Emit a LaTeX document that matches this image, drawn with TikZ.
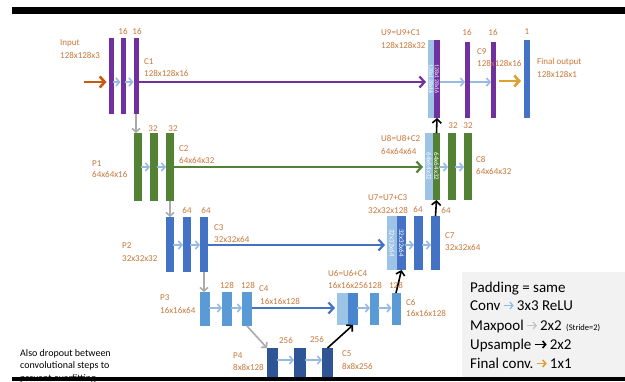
\documentclass[tikz,border=0pt]{standalone}
\usepackage{fontspec}
\setmainfont{Carlito}
\usetikzlibrary{arrows.meta,positioning}
\definecolor{purpleC}{RGB}{112,48,160}
\definecolor{greenC}{RGB}{84,130,53}
\definecolor{blueC}{RGB}{68,114,196}
\definecolor{lblueC}{RGB}{91,155,213}
\definecolor{dblueC}{RGB}{47,85,151}
\definecolor{ulightC}{RGB}{157,195,230}
\definecolor{u6darkC}{RGB}{74,134,207}
\definecolor{convC}{RGB}{150,186,226}
\definecolor{poolC}{RGB}{170,170,170}
\definecolor{labC}{RGB}{200,120,60}
\definecolor{inC}{RGB}{197,90,17}
\definecolor{finC}{RGB}{222,160,48}
\definecolor{legC}{RGB}{242,242,242}
\begin{document}
\begin{tikzpicture}[x=1pt,y=-1pt,
  bar/.style={inner sep=0pt, outer sep=0pt, draw=none},
  lab/.style={font=\fontsize{9}{10}\selectfont, text=labC, inner sep=0pt, anchor=base west},
  num/.style={font=\fontsize{9}{10}\selectfont, text=labC, inner sep=0pt, anchor=base},
  conv/.style={draw=convC, line width=1.6pt, -{Straight Barb[length=3.5pt,width=8pt]}},
  pool/.style={draw=poolC, line width=1.6pt, -{Straight Barb[length=3.5pt,width=8pt]}},
  upar/.style={draw=black, line width=1.6pt, -{Straight Barb[length=4pt,width=9pt]}},
  skip/.style={line width=2.2pt, -{Straight Barb[length=5pt,width=11pt]}, shorten >=2pt},
  leg/.style={font=\fontsize{15}{18}\selectfont, inner sep=0pt, anchor=base west},
  legarrow/.style={line width=1.3pt, -{Straight Barb[length=3pt,width=7pt]}, shorten <=3pt, shorten >=3pt},
  note/.style={font=\fontsize{10}{12}\selectfont, inner sep=0pt, anchor=base west}]
\useasboundingbox (0,0) rectangle (625,381);
\fill[white] (0,0) rectangle (625,381);

% level y coordinates
\coordinate (y1) at (0,82);
\coordinate (y1f) at (0,81);
\coordinate (y2) at (0,167);
\coordinate (y3) at (0,245);
\coordinate (y4) at (0,308);
\coordinate (y5) at (0,360);
\coordinate (inp) at (84,82);

% ---- level 1
\node[bar,fill=purpleC,minimum width=5pt,minimum height=76pt] (a1) at (111,76) {};
\node[bar,fill=purpleC,minimum width=5pt,minimum height=76pt] (a2) at (123,76) {};
\node[bar,fill=purpleC,minimum width=5pt,minimum height=76pt] (a3) at (136,76) {};
\node[bar,fill=ulightC,minimum width=6pt,minimum height=78pt] (u9l) at (431,79) {\rotatebox{-90}{\fontsize{6}{6}\selectfont\color{white}128x128x16}};
\node[bar,fill=purpleC,minimum width=6pt,minimum height=78pt] (u9d) at (437,79) {\rotatebox{-90}{\fontsize{6}{6}\selectfont\color{white}128x128x16}};
\node[bar,fill=purpleC,minimum width=5pt,minimum height=76pt] (c9a) at (467.5,80) {};
\node[bar,fill=purpleC,minimum width=5pt,minimum height=76pt] (c9b) at (493.5,80) {};
\node[bar,fill=blueC,minimum width=6pt,minimum height=78pt] (fo) at (527,79) {};

% ---- level 2
\node[bar,fill=greenC,minimum width=8pt,minimum height=68pt] (b1) at (138,167) {};
\node[bar,fill=greenC,minimum width=8pt,minimum height=68pt] (b2) at (154,167) {};
\node[bar,fill=greenC,minimum width=8pt,minimum height=68pt] (b3) at (170,167) {};
\node[bar,fill=ulightC,minimum width=8pt,minimum height=67pt] (u8l) at (429,166.5) {\rotatebox{-90}{\fontsize{7}{7}\selectfont\color{white}64x64x32}};
\node[bar,fill=greenC,minimum width=7pt,minimum height=67pt] (u8d) at (436.5,166.5) {\rotatebox{-90}{\fontsize{7}{7}\selectfont\color{white}64x64x32}};
\node[bar,fill=greenC,minimum width=8pt,minimum height=67pt] (c8a) at (452,166.5) {};
\node[bar,fill=greenC,minimum width=8pt,minimum height=67pt] (c8b) at (468,166.5) {};

% ---- level 3
\node[bar,fill=blueC,minimum width=8pt,minimum height=55pt] (c1) at (170,244.5) {};
\node[bar,fill=blueC,minimum width=8pt,minimum height=55pt] (c2) at (187,244.5) {};
\node[bar,fill=blueC,minimum width=8pt,minimum height=55pt] (c3) at (204,244.5) {};
\node[bar,fill=ulightC,minimum width=10pt,minimum height=54pt] (u7l) at (392,243) {\rotatebox{-90}{\fontsize{7}{7}\selectfont\color{white}32x32x64}};
\node[bar,fill=blueC,minimum width=9pt,minimum height=54pt] (u7d) at (401.5,243) {\rotatebox{-90}{\fontsize{7}{7}\selectfont\color{white}32x32x64}};
\node[bar,fill=blueC,minimum width=9pt,minimum height=54pt] (c7a) at (418.5,243) {};
\node[bar,fill=blueC,minimum width=9pt,minimum height=54pt] (c7b) at (435.5,243) {};

% ---- level 4
\node[bar,fill=lblueC,minimum width=10pt,minimum height=34pt] (d1) at (205,309) {};
\node[bar,fill=lblueC,minimum width=10pt,minimum height=34pt] (d2) at (227,309) {};
\node[bar,fill=lblueC,minimum width=10pt,minimum height=34pt] (d3) at (247,309) {};
\node[bar,fill=ulightC,minimum width=11pt,minimum height=32pt] (u6l) at (342.5,309) {};
\node[bar,fill=u6darkC,minimum width=10pt,minimum height=32pt] (u6d) at (353,309) {};
\node[bar,fill=lblueC,minimum width=9pt,minimum height=32pt] (c6a) at (374.5,309) {};
\node[bar,fill=lblueC,minimum width=9pt,minimum height=32pt] (c6b) at (396,309) {};

% ---- level 5
\node[bar,fill=dblueC,minimum width=11pt,minimum height=29pt] (e1) at (272.5,362.5) {};
\node[bar,fill=dblueC,minimum width=12pt,minimum height=29pt] (e2) at (300,362.5) {};
\node[bar,fill=dblueC,minimum width=11pt,minimum height=29pt] (e3) at (327.5,362.5) {};

% ---- skip connections
\draw[skip,purpleC] (a3.east |- y1) -- (u9l.west |- y1);
\draw[skip,greenC] (b3.east |- y2) -- (u8l.west |- y2);
\draw[skip,blueC] (c3.east |- y3) -- (u7l.west |- y3);
\draw[skip,blueC] (d3.east |- y4) -- (u6l.west |- y4);

% ---- conv arrows
\draw[conv] ([xshift=-1pt]a1.east |- y1) -- (a2.west |- y1);
\draw[conv] ([xshift=-1pt]a2.east |- y1) -- (a3.west |- y1);
\draw[conv] (u9d.east |- y1) -- (c9a.west |- y1);
\draw[conv] (c9a.east |- y1) -- (c9b.west |- y1);
\draw[conv] ([xshift=-1pt]b1.east |- y2) -- (b2.west |- y2);
\draw[conv] ([xshift=-1pt]b2.east |- y2) -- (b3.west |- y2);
\draw[conv] ([xshift=-1pt]u8d.east |- y2) -- (c8a.west |- y2);
\draw[conv] ([xshift=-1pt]c8a.east |- y2) -- (c8b.west |- y2);
\draw[conv] ([xshift=-1pt]c1.east |- y3) -- (c2.west |- y3);
\draw[conv] ([xshift=-1pt]c2.east |- y3) -- (c3.west |- y3);
\draw[conv] ([xshift=-1pt]u7d.east |- y3) -- (c7a.west |- y3);
\draw[conv] ([xshift=-1pt]c7a.east |- y3) -- (c7b.west |- y3);
\draw[conv] ([xshift=-1pt]d1.east |- y4) -- (d2.west |- y4);
\draw[conv] ([xshift=-1pt]d2.east |- y4) -- (d3.west |- y4);
\draw[conv] ([xshift=-1pt]u6d.east |- y4) -- (c6a.west |- y4);
\draw[conv] ([xshift=-1pt]c6a.east |- y4) -- (c6b.west |- y4);
\draw[conv] ([xshift=-1pt]e1.east |- y5) -- (e2.west |- y5);
\draw[conv] ([xshift=-1pt]e2.east |- y5) -- (e3.west |- y5);

% ---- input / final
\draw[draw=inC, line width=2.6pt, -{Straight Barb[length=5pt,width=11pt]}, shorten >=2pt] (inp) -- (a1.west |- y1);
\draw[draw=finC, line width=2.6pt, -{Straight Barb[length=5pt,width=11pt]}, shorten >=3pt, shorten <=3pt] (c9b.east |- y1f) -- (fo.west |- y1f);

% ---- maxpool arrows
\draw[pool] (a3.south) -- (a3.south |- b1.north);
\draw[pool] (b3.south) -- (c1.north);
\draw[pool] (c3.south) -- (c3.south |- d1.north);
\draw[pool] (d3.south) -- (e1.north west);

% ---- upsample arrows
\draw[upar] (e3.north) -- (u6d.south);
\draw[upar] (c7b.north) -- (u8d.south);
\draw[upar] (u8d.north) -- (u9d.south);

% ---- labels
\node[lab] (tinput) at (60,45) {Input};
\node[lab] (tinputd) at (60,58) {128x128x3};
\node[num] (n1a) at (123,34) {16};
\node[num] (n1b) at (137,34) {16};
\node[lab] (tc1) at (144,64) {C1};
\node[lab] (tc1d) at (144,76) {128x128x16};
\node[lab] (tu9) at (381,35) {U9=U9+C1};
\node[lab] (tu9d) at (381,48) {128x128x32};
\node[num] (n9a) at (467,35) {16};
\node[num] (n9b) at (493,35) {16};
\node[num] (nfo) at (527,34) {1};
\node[lab] (tc9) at (477,54) {C9};
\node[lab] (tc9d) at (477,66) {128x128x16};
\node[lab] (tfo) at (537,64) {Final output};
\node[lab] (tfod) at (537,77) {128x128x1};

\node[num] (n2a) at (153,131) {32};
\node[num] (n2b) at (173,131) {32};
\node[lab] (tp1) at (92,166) {P1};
\node[lab] (tp1d) at (92,177) {64x64x16};
\node[lab] (tc2) at (179,151) {C2};
\node[lab] (tc2d) at (179,163) {64x64x32};
\node[lab] (tu8) at (381,141) {U8=U8+C2};
\node[lab] (tu8d) at (381,154) {64x64x64};
\node[num] (n8a) at (453,128) {32};
\node[num] (n8b) at (468,128) {32};
\node[lab] (tc8) at (476,162) {C8};
\node[lab] (tc8d) at (476,174) {64x64x32};

\node[num] (n3a) at (187,213) {64};
\node[num] (n3b) at (206,213) {64};
\node[lab] (tp2) at (122,248) {P2};
\node[lab] (tp2d) at (122,261) {32x32x32};
\node[lab] (tc3) at (214,230) {C3};
\node[lab] (tc3d) at (214,242) {32x32x64};
\node[lab] (tu7) at (368,200) {U7=U7+C3};
\node[lab] (tu7d) at (368,213) {32x32x128};
\node[num] (n7a) at (418,212) {64};
\node[num] (n7b) at (446,213) {64};
\node[lab] (tc7) at (445,238) {C7};
\node[lab] (tc7d) at (445,250) {32x32x64};

\node[num] (n4a) at (227,288) {128};
\node[num] (n4b) at (248,288) {128};
\node[lab] (tp3) at (160,300) {P3};
\node[lab] (tp3d) at (160,313) {16x16x64};
\node[lab] (tc4) at (259,291) {C4};
\node[lab] (tc4d) at (260,304) {16x16x128};
\node[lab] (tu6) at (328,276) {U6=U6+C4};
\node[lab] (tu6d) at (328,288) {16x16x256};
\node[num] (n6a) at (375,288) {128};
\node[num] (n6b) at (396,288) {128};
\node[lab] (tc6) at (406,305) {C6};
\node[lab] (tc6d) at (406,316) {16x16x128};

\node[num] (n5a) at (286,343) {256};
\node[num] (n5b) at (317,342) {256};
\node[lab] (tp4) at (233,358) {P4};
\node[lab] (tp4d) at (233,370) {8x8x128};
\node[lab] (tc5) at (342,356) {C5};
\node[lab] (tc5d) at (342,369) {8x8x256};

% upsample arrow drawn over the 128 label
\draw[upar] (c6b.north) -- (u7d.south);

% ---- note
\node[note] (nt1) at (20,356) {Also dropout between};
\node[note] (nt2) at (20,368) {convolutional steps to};
\node[note] (nt3) at (20,381) {prevent overfitting};

% ---- legend
\node[fill=legC, inner sep=0pt, minimum width=163pt, minimum height=105pt, anchor=north west] (legbox) at (462,272) {};
\node[leg] (lg1) at (470,292) {Padding = same};
\node[leg] (lg2a) at (470,310) {Conv};
\node[leg] (lg2b) at ([xshift=16pt]lg2a.base east) {3x3 ReLU};
\node[leg] (lg3a) at (470,330) {Maxpool};
\node[leg] (lg3b) at ([xshift=16pt]lg3a.base east) {2x2};
\node[font=\fontsize{8.5}{10}\selectfont, inner sep=0pt, anchor=base west] (lg3c) at ([xshift=4pt]lg3b.base east) {(Stride=2)};
\node[leg] (lg4a) at (470,349) {Upsample};
\node[leg] (lg4b) at ([xshift=18pt]lg4a.base east) {2x2};
\node[leg] (lg5a) at (470,368) {Final conv.};
\node[leg] (lg5b) at ([xshift=16pt]lg5a.base east) {1x1};
\draw[legarrow, draw=convC] ([yshift=4.5pt]lg2a.base east) -- ([yshift=4.5pt]lg2b.base west);
\draw[legarrow, draw=poolC!70] ([yshift=4.5pt]lg3a.base east) -- ([yshift=4.5pt]lg3b.base west);
\draw[legarrow, draw=black, line width=1.6pt] ([yshift=4.5pt]lg4a.base east) -- ([yshift=4.5pt]lg4b.base west);
\draw[legarrow, draw=finC, line width=1.6pt] ([yshift=4.5pt]lg5a.base east) -- ([yshift=4.5pt]lg5b.base west);

% ---- black frame bars
\fill[black] (12,7) rectangle (625,14);
\fill[black] (12,377) rectangle (625,381);
\end{tikzpicture}
\end{document}
